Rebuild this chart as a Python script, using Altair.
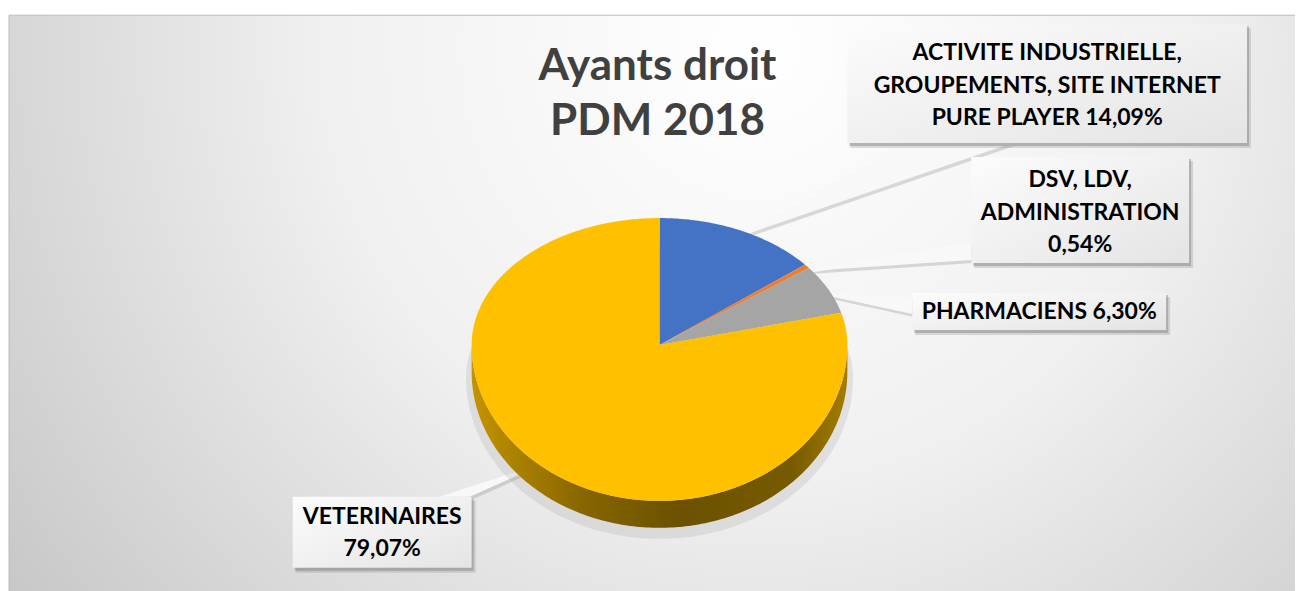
import math
import altair as alt
import pandas as pd

# ---------------- data ----------------
title_lines = ["Ayants droit", "PDM 2018"]
categories = [
    "ACTIVITE INDUSTRIELLE,\nGROUPEMENTS, SITE INTERNET\nPURE PLAYER",
    "DSV, LDV,\nADMINISTRATION",
    "PHARMACIENS",
    "VETERINAIRES",
]
values = [14.09, 0.54, 6.30, 79.07]
value_sep = [" ", "\n", " ", "\n"]
colors = ["#4472C4", "#ED7D31", "#A5A5A5", "#FFC000"]

# ---------------- layout (plot coordinates) ----------------
W, H = 1287, 576
OX, OY = 9, 15  # page offset of the plot area
CX, CY = 660 - OX, 345 - OY
RX, RY_TOP, RY_BOT, DEPTH = 188, 127, 156, 27
KBOT = RY_BOT / RY_TOP
DEPTH_U = DEPTH / RY_TOP

# label boxes (page coords): x0, y0, x1, y1
boxes = [
    (848, 24, 1248, 143),
    (972, 157, 1190, 263),
    (913, 293, 1167, 330),
    (293, 497, 472, 568),
]
# y of the first text line of each label (page coords)
first_line_y = [53, 180, 312, 517]
# pointer bases on the boxes (page coords)
bases = [
    ((905, 143), (1013, 143)),
    ((972, 242), (972, 260)),
    ((913, 297), (913, 314)),
    ((440, 497), (470, 497)),
]

FONT = "Lato"


def ux_uy(theta_deg, r=1.0):
    t = math.radians(theta_deg)
    c = math.cos(t)
    return r * math.sin(t), r * c * (1.0 if c >= 0 else KBOT)


# ---------------- pie top ----------------
total = sum(values)
rows = []
start = 0.0
mids = []
for cat, v in zip(categories, values):
    ang = v / total * 360.0
    end = start + ang
    mids.append(start + ang / 2)
    rows.append({"slice": cat, "order": 0, "ux": 0.0, "uy": 0.0})
    n = max(2, int(ang / 0.75) + 1)
    for k in range(n + 1):
        th = start + ang * k / n
        x, y = ux_uy(th)
        rows.append({"slice": cat, "order": k + 1, "ux": x, "uy": y})
    start = end
pie_df = pd.DataFrame(rows)

# ---------------- pie side (front rim) ----------------
side_rows = []
o = 0
for k in range(0, 181):
    th = 90 + k
    x, y = ux_uy(th)
    side_rows.append({"order": o, "ux": x, "uy": y - DEPTH_U})
    o += 1
for k in range(0, 181):
    th = 270 - k
    x, y = ux_uy(th)
    side_rows.append({"order": o, "ux": x, "uy": y})
    o += 1
side_df = pd.DataFrame(side_rows)

# soft shadow under the pie
shadow_rows = []
for k in range(0, 361, 2):
    x, y = ux_uy(k, 1.03)
    shadow_rows.append({"order": k, "ux": x, "uy": y - DEPTH_U - 0.05})
shadow_df = pd.DataFrame(shadow_rows)

xs = alt.Scale(domain=[-1, 1], range=[CX - RX, CX + RX], zero=False, nice=False)
ys = alt.Scale(domain=[-1, 1], range=[CY + RY_TOP, CY - RY_TOP], zero=False, nice=False)

pie_shadow = alt.Chart(shadow_df).mark_line(
    filled=True, fill="#a0a0a0", opacity=0.22, strokeWidth=0
).encode(
    x=alt.X("ux:Q", scale=xs, axis=None),
    y=alt.Y("uy:Q", scale=ys, axis=None),
    order="order:Q",
)

side = alt.Chart(side_df).mark_line(
    filled=True,
    strokeWidth=0,
    fill=alt.Gradient(
        gradient="linear",
        x1=0, x2=1, y1=0, y2=0,
        stops=[
            alt.GradientStop(offset=0, color="#c49400"),
            alt.GradientStop(offset=0.12, color="#a98100"),
            alt.GradientStop(offset=0.3, color="#876500"),
            alt.GradientStop(offset=0.55, color="#6b5100"),
            alt.GradientStop(offset=0.85, color="#775a00"),
            alt.GradientStop(offset=1, color="#a37c00"),
        ],
    ),
).encode(
    x=alt.X("ux:Q", scale=xs, axis=None),
    y=alt.Y("uy:Q", scale=ys, axis=None),
    order="order:Q",
)

top = alt.Chart(pie_df).mark_line(filled=True, strokeWidth=0).encode(
    x=alt.X("ux:Q", scale=xs, axis=None),
    y=alt.Y("uy:Q", scale=ys, axis=None),
    color=alt.Color("slice:N", scale=alt.Scale(domain=categories, range=colors), legend=None),
    detail="slice:N",
    order="order:Q",
)

# ---------------- pointers (pixel coordinates) ----------------
ptr_rows = []
for i, (mid, (b1, b2)) in enumerate(zip(mids, bases)):
    tx, ty = ux_uy(mid, 0.93)
    px_tip = CX + tx * RX
    py_tip = CY - ty * RY_TOP
    pts = [(px_tip, py_tip), (b1[0] - OX, b1[1] - OY), (b2[0] - OX, b2[1] - OY)]
    for j, (px, py) in enumerate(pts):
        ptr_rows.append({"id": i, "order": j, "px": px, "py": py})
ptr_df = pd.DataFrame(ptr_rows)
ptr_sh_df = ptr_df.assign(px=ptr_df.px + 2, py=ptr_df.py + 3)

pointer_shadow = alt.Chart(ptr_sh_df).mark_line(
    filled=True, fill="#8a8a8a", opacity=0.3, strokeWidth=0
).encode(
    x=alt.X("px:Q", scale=None), y=alt.Y("py:Q", scale=None),
    detail="id:N", order="order:Q",
)
pointer = alt.Chart(ptr_df).mark_line(
    filled=True, fill="#f8f8f8", strokeWidth=0
).encode(
    x=alt.X("px:Q", scale=None), y=alt.Y("py:Q", scale=None),
    detail="id:N", order="order:Q",
)

# ---------------- label boxes ----------------
box_df = pd.DataFrame(
    [{"id": i, "x0": b[0] - OX, "y0": b[1] - OY, "x1": b[2] - OX, "y1": b[3] - OY} for i, b in enumerate(boxes)]
)
box_sh1 = alt.Chart(box_df.assign(x0=box_df.x0 + 3, x1=box_df.x1 + 4, y0=box_df.y0 + 4, y1=box_df.y1 + 5)).mark_rect(
    fill="#7a7a7a", opacity=0.25
).encode(x=alt.X("x0:Q", scale=None), x2="x1:Q", y=alt.Y("y0:Q", scale=None), y2="y1:Q")
box_sh2 = alt.Chart(box_df.assign(x0=box_df.x0 + 2, x1=box_df.x1 + 2, y0=box_df.y0 + 2, y1=box_df.y1 + 3)).mark_rect(
    fill="#6a6a6a", opacity=0.35
).encode(x=alt.X("x0:Q", scale=None), x2="x1:Q", y=alt.Y("y0:Q", scale=None), y2="y1:Q")
box = alt.Chart(box_df).mark_rect(
    fill=alt.Gradient(
        gradient="linear", x1=0, x2=1, y1=0, y2=1,
        stops=[alt.GradientStop(offset=0, color="#fcfcfc"), alt.GradientStop(offset=1, color="#e4e4e4")],
    )
).encode(x=alt.X("x0:Q", scale=None), x2="x1:Q", y=alt.Y("y0:Q", scale=None), y2="y1:Q")

# ---------------- label texts ----------------
lab_rows = []
for i, (cat, v, sep, b, fy) in enumerate(zip(categories, values, value_sep, boxes, first_line_y)):
    txt = cat + sep + f"{v:.2f}".replace(".", ",") + "%"
    lab_rows.append({"id": i, "text": txt, "px": (b[0] + b[2]) / 2 - OX, "py": fy - OY})
lab_df = pd.DataFrame(lab_rows)
labels = alt.Chart(lab_df).mark_text(
    font=FONT, fontSize=23, fontWeight="bold", color="#000000",
    align="center", baseline="middle", lineBreak="\n", lineHeight=32.5,
).encode(x=alt.X("px:Q", scale=None), y=alt.Y("py:Q", scale=None), text="text:N")

# ---------------- title ----------------
title_df = pd.DataFrame({"text": ["\n".join(title_lines)]})
title = alt.Chart(title_df).mark_text(
    font=FONT, fontSize=44, fontWeight="bold", color="#404040",
    align="center", baseline="middle", lineBreak="\n", lineHeight=55,
).encode(x=alt.value(658 - OX), y=alt.value(67 - OY), text="text:N")

# ---------------- background ----------------
bg = alt.Chart(pd.DataFrame({"a": [0]})).mark_rect(
    stroke="#bdbdbd", strokeWidth=1,
    fill=alt.Gradient(
        gradient="radial", x1=0.58, y1=0.3, x2=0.58, y2=0.3, r1=0, r2=0.75,
        stops=[
            alt.GradientStop(offset=0, color="#ffffff"),
            alt.GradientStop(offset=0.45, color="#f0f0f0"),
            alt.GradientStop(offset=1, color="#c4c4c4"),
        ],
    ),
).encode(x=alt.value(0), x2=alt.value(W + 2), y=alt.value(0), y2=alt.value(H + 2))

chart = alt.layer(
    bg, pointer_shadow, pointer, pie_shadow, side, top, box_sh1, box_sh2, box, labels, title
).resolve_scale(x="independent", y="independent").properties(
    width=W, height=H,
    autosize=alt.AutoSizeParams(type="none"),
    padding={"left": 1, "top": 7, "right": 0, "bottom": 0},
    background="#ffffff",
).configure_view(stroke=None)

chart.save("out.html", embed_options={"renderer": "svg", "actions": False})
